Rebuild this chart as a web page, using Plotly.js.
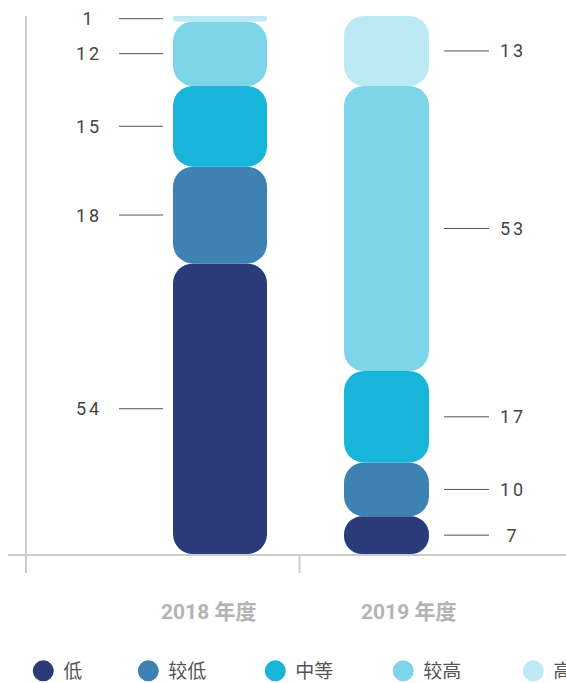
<!DOCTYPE html>
<html><head><meta charset="utf-8">
<script src="https://cdn.plot.ly/plotly-3.0.1.min.js"></script>
<style>
html,body{margin:0;padding:0;background:#fff;overflow:hidden}
#chart{width:566px;height:683px}
.annotation .annotation-text{letter-spacing:3px}
.annotation[data-index="0"] .annotation-text,.annotation[data-index="1"] .annotation-text{letter-spacing:0}
</style>
</head><body><div id="chart"></div>
<script>
// ---- data ----
const categories = ['2018 年度', '2019 年度'];
const seriesNames = ['低', '较低', '中等', '较高', '高'];
const lowValues = [54, 7];
const lowerValues = [18, 10];
const middleValues = [15, 17];
const higherValues = [12, 53];
const highValues = [1, 13];

// ---- styles ----
const seriesValues = [lowValues, lowerValues, middleValues, higherValues, highValues];
const colors = ['#2b3a78', '#3d82b3', '#18b5da', '#7dd5e9', '#bde9f5'];
const barWidths = [0.5646, 0.5105];
const legendWidths = [60, 82, 83, 85, 20];
const labelShift = [-131, 126.5];
const leaderOffsets = [[-101, -57], [57.5, 102.5]];
const catLabelShift = [-11.5, 21.5];

const traces = [];
const shapes = [];
const annotations = [];

categories.forEach((c, i) => {
  annotations.push({
    x: c, xref: 'x', y: 0, yref: 'paper', yanchor: 'middle', xanchor: 'center',
    xshift: catLabelShift[i], yshift: -58, showarrow: false, text: c,
    font: {family: 'Roboto, "Noto Sans CJK SC", sans-serif', size: 21, color: '#b3b3b3', weight: 'bold'}
  });
});

const cum = categories.map(() => 0);
seriesValues.forEach((vals, s) => {
  const bases = cum.slice();
  const mids = vals.map((v, i) => bases[i] + v / 2);
  traces.push({
    type: 'bar', x: categories, y: vals, base: bases, width: barWidths,
    marker: {color: colors[s], cornerradius: 20, line: {width: 0}},
    showlegend: false, hoverinfo: 'skip', name: seriesNames[s]
  });
  vals.forEach((v, i) => {
    annotations.push({
      x: categories[i], xref: 'x', y: mids[i], yref: 'y', xanchor: 'center', yanchor: 'middle',
      xshift: labelShift[i], showarrow: false, text: String(v),
      font: {family: 'Roboto, sans-serif', size: 18, color: '#444'}
    });
    shapes.push({
      type: 'line', xref: 'x', yref: 'y', xsizemode: 'pixel', xanchor: categories[i],
      x0: leaderOffsets[i][0], x1: leaderOffsets[i][1], y0: mids[i], y1: mids[i],
      line: {color: '#555', width: 1}
    });
  });
  vals.forEach((v, i) => { cum[i] += v; });
});

// legend entries
seriesNames.forEach((n, s) => {
  traces.push({
    type: 'scatter', mode: 'markers', x: [null], y: [null], name: n,
    marker: {size: 16, color: colors[s], line: {width: 5, color: colors[s]}},
    legendwidth: legendWidths[s], hoverinfo: 'skip'
  });
});

// axis decorations
shapes.push({type: 'line', xref: 'paper', yref: 'paper', x0: -0.03525, x1: 0, y0: -0.00186, y1: -0.00186, line: {color: '#cccccc', width: 2}});
shapes.push({type: 'line', xref: 'paper', yref: 'paper', x0: -0.00186, x1: -0.00186, y0: 0, y1: -0.0353, line: {color: '#cccccc', width: 2}});
shapes.push({type: 'line', xref: 'paper', yref: 'paper', x0: 0.5056, x1: 0.5056, y0: 0, y1: -0.0353, line: {color: '#cccccc', width: 2}});

const layout = {
  width: 566, height: 683,
  margin: {l: 27, r: 0, t: 16, b: 129, autoexpand: false},
  paper_bgcolor: '#fff', plot_bgcolor: '#fff',
  barmode: 'overlay', hovermode: false,
  xaxis: {type: 'category', range: [-1.1592, 2.0781], showline: true, linecolor: '#cccccc', linewidth: 2,
          showticklabels: false, ticks: '', showgrid: false, zeroline: false, fixedrange: true},
  yaxis: {range: [0, 100], showline: true, linecolor: '#cccccc', linewidth: 2,
          showticklabels: false, ticks: '', showgrid: false, zeroline: false, fixedrange: true},
  showlegend: true,
  legend: {orientation: 'h', x: -0.0069, xanchor: 'left', y: -0.1822, yanchor: 'top',
           font: {family: '"Noto Sans CJK SC", sans-serif', size: 19, color: '#555'},
           itemclick: false, itemdoubleclick: false, bgcolor: 'rgba(0,0,0,0)', borderwidth: 0},
  shapes: shapes,
  annotations: annotations
};

Plotly.newPlot('chart', traces, layout, {displayModeBar: false, staticPlot: true});
</script>
</body></html>
